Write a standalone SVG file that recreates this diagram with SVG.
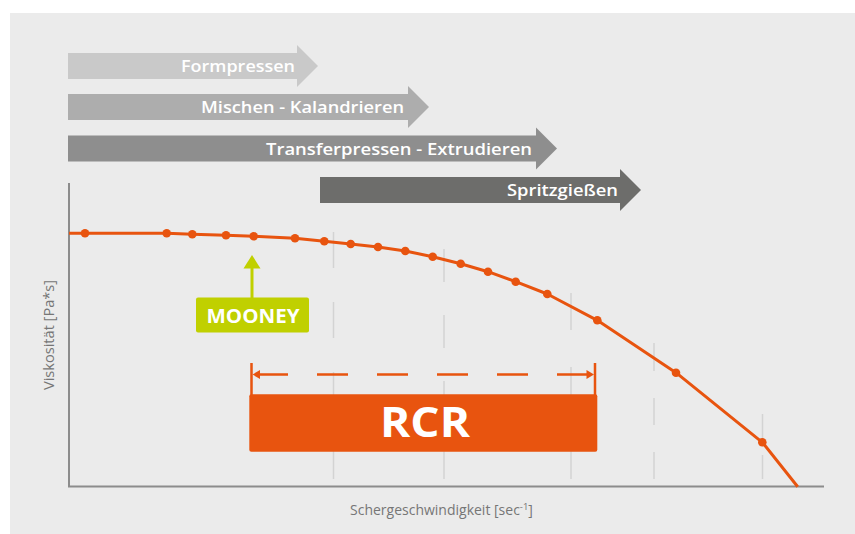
<svg xmlns="http://www.w3.org/2000/svg" width="855" height="534" viewBox="0 0 855 534">
<style>
.bar-label{font-family:"Open Sans","DejaVu Sans",sans-serif;font-weight:600;font-size:16px;fill:#ffffff}
.axis-label{font-family:"Open Sans","DejaVu Sans",sans-serif;font-size:14px;fill:#767676}
.grid{stroke:#d3d3d3;stroke-width:1.5;fill:none}
.axis{stroke:#8c8c8c;stroke-width:2;fill:none}
.curve{stroke:#e8540f;stroke-width:3;fill:none;stroke-linejoin:round}
.dot{fill:#e8540f}
.orange{fill:#e8540f}
.green{fill:#c0d000}
.box-label{font-family:"Open Sans","DejaVu Sans",sans-serif;font-weight:bold;fill:#ffffff;text-anchor:middle}
</style>
<rect x="0" y="0" width="855" height="534" fill="#ffffff"/>
<rect x="10" y="13" width="845" height="521" fill="#ebebeb"/>

<g id="bar-formpressen">
<polygon points="68,53 297,53 297,45 318,66 297,87 297,79 68,79" fill="#c9c9c9"/>
<text class="bar-label" x="181" y="72" textLength="114" lengthAdjust="spacingAndGlyphs">Formpressen</text>
</g>
<g id="bar-mischen">
<polygon points="68,94 408,94 408,86 429,107 408,128 408,120 68,120" fill="#adadad"/>
<text class="bar-label" x="201" y="113" textLength="203" lengthAdjust="spacingAndGlyphs">Mischen - Kalandrieren</text>
</g>
<g id="bar-transfer">
<polygon points="68,135.5 536,135.5 536,127.5 557,148.5 536,169.5 536,161.5 68,161.5" fill="#8e8e8e"/>
<text class="bar-label" x="266" y="154.5" textLength="266" lengthAdjust="spacingAndGlyphs">Transferpressen - Extrudieren</text>
</g>
<g id="bar-spritz">
<polygon points="320,177 620,177 620,169 641,190 620,211 620,203 320,203" fill="#6d6d6b"/>
<text class="bar-label" x="507" y="196" textLength="111" lengthAdjust="spacingAndGlyphs">Spritzgießen</text>
</g>

<g id="gridlines">
<path class="grid" d="M333.5,232V268M333.5,302V338M333.5,372V408M333.5,443V479"/>
<path class="grid" d="M444,249V282M444,315V348M444,381V414M444,446V479"/>
<path class="grid" d="M571,293V330M571,367V404M571,442V479"/>
<path class="grid" d="M654,343V371M654,398V425M654,452V479"/>
<path class="grid" d="M762.5,414V440M762.5,455V479"/>
</g>

<g id="axes">
<path class="axis" d="M69,183V487"/>
<path class="axis" d="M68,486.5H824"/>
<text class="axis-label" transform="translate(54,335) rotate(-90)" text-anchor="middle" textLength="110" lengthAdjust="spacingAndGlyphs">Viskosität [Pa*s]</text>
<text class="axis-label" x="350" y="515" font-size="14.5">Schergeschwindigkeit [sec<tspan font-size="9.5" dy="-5">-1</tspan><tspan dy="5">]</tspan></text>
</g>

<g id="curve">
<polyline class="curve" points="69,233.3 85,233.3 166.7,233.3 192.3,234.3 226,235.3 253.7,236.3 295,238.3 324.3,241.3 350.7,244 378,247 405.3,251 432.7,256.7 460.7,263.7 488,271.7 515.7,281.7 547.3,294 597.3,320.3 676,372.7 762.3,442.3 797.7,486.7"/>
<g class="dot">
<circle cx="85" cy="233.3" r="4.3"/>
<circle cx="166.7" cy="233.3" r="4.3"/>
<circle cx="192.3" cy="234.3" r="4.3"/>
<circle cx="226" cy="235.3" r="4.3"/>
<circle cx="253.7" cy="236.3" r="4.3"/>
<circle cx="295" cy="238.3" r="4.3"/>
<circle cx="324.3" cy="241.3" r="4.3"/>
<circle cx="350.7" cy="244" r="4.3"/>
<circle cx="378" cy="247" r="4.3"/>
<circle cx="405.3" cy="251" r="4.3"/>
<circle cx="432.7" cy="256.7" r="4.3"/>
<circle cx="460.7" cy="263.7" r="4.3"/>
<circle cx="488" cy="271.7" r="4.3"/>
<circle cx="515.7" cy="281.7" r="4.3"/>
<circle cx="547.3" cy="294" r="4.3"/>
<circle cx="597.3" cy="320.3" r="4.3"/>
<circle cx="676" cy="372.7" r="4.3"/>
<circle cx="762.3" cy="442.3" r="4.3"/>
</g>
</g>

<g id="connectors">
<path d="M252,268V298" stroke="#c0d000" stroke-width="3" fill="none"/>
<polygon class="green" points="252,255 260.5,268.5 243.5,268.5"/>
<path d="M251.5,363V396M595,363V396" stroke="#e8540f" stroke-width="2.5" fill="none"/>
<path d="M257,374.5H590" stroke="#e8540f" stroke-width="2.5" stroke-dasharray="31 29" fill="none"/>
<polygon class="orange" points="252.5,374.5 260,370 260,379"/>
<polygon class="orange" points="594,374.5 586.5,370 586.5,379"/>
</g>

<g id="mooney">
<rect class="green" x="196" y="297.5" width="113" height="35" rx="2"/>
<text class="box-label" x="253" y="322.7" font-size="19" textLength="93" lengthAdjust="spacingAndGlyphs">MOONEY</text>
</g>

<g id="rcr">
<rect class="orange" x="249.3" y="394.3" width="348" height="57.4" rx="2"/>
<text class="box-label" x="425" y="437" font-size="41" textLength="90" lengthAdjust="spacingAndGlyphs">RCR</text>
</g>
</svg>
